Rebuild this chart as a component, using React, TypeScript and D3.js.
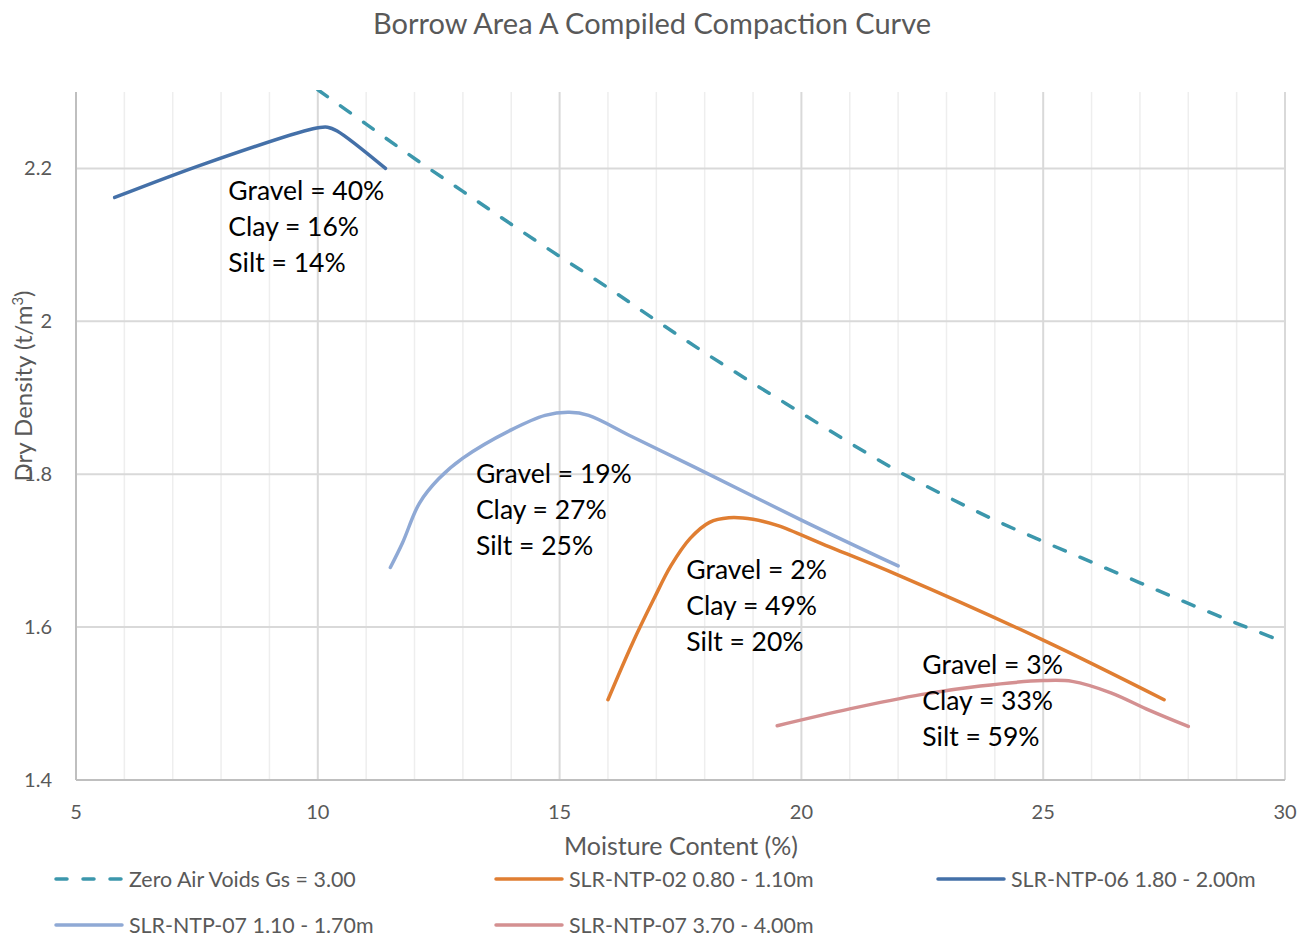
import React from "react";
import * as d3 from "d3";

type Pt = [number, number];

const xTicks = [5, 10, 15, 20, 25, 30];
const yTicks = [1.4, 1.6, 1.8, 2.0, 2.2];
const yTickLabels = ["1.4", "1.6", "1.8", "2", "2.2"];

const zavGs300: Pt[] = [
  [10.0, 2.303], [11, 2.258], [12, 2.213], [13, 2.170], [14, 2.127], [15, 2.085],
  [16, 2.044], [17, 2.001], [18, 1.959], [19, 1.919], [20, 1.880], [21, 1.841],
  [22, 1.804], [23, 1.771], [24, 1.740], [25, 1.712], [26, 1.685], [27, 1.658],
  [28, 1.631], [29, 1.605], [29.8, 1.585],
];
const ntp02_080_110: Pt[] = [
  [16.0, 1.505], [16.5, 1.578], [16.95, 1.637], [17.3, 1.68], [17.7, 1.716],
  [18.1, 1.737], [18.5, 1.743], [19.0, 1.741], [19.5, 1.733], [20.5, 1.707],
  [22.0, 1.668], [25.0, 1.583], [27.5, 1.505],
];
const ntp06_180_200: Pt[] = [
  [5.8, 2.162], [7.7, 2.207], [9.9, 2.252], [10.2, 2.254], [10.4, 2.249], [11.4, 2.2],
];
const ntp07_110_170: Pt[] = [
  [11.5, 1.678], [11.75, 1.71], [12.1, 1.762], [12.5, 1.794], [13.0, 1.821],
  [14.0, 1.858], [14.7, 1.877], [15.2, 1.881], [15.6, 1.877], [16.5, 1.849],
  [17.8, 1.809], [20.0, 1.740], [22.0, 1.680],
];
const ntp07_370_400: Pt[] = [
  [19.5, 1.471], [21.0, 1.493], [22.5, 1.512], [23.7, 1.523], [25.0, 1.530],
  [25.6, 1.529], [26.4, 1.514], [27.2, 1.491], [28.0, 1.470],
];

const series = [
  { name: "Zero Air Voids Gs = 3.00", data: zavGs300, color: "#3C97AC", dash: "12 16" },
  { name: "SLR-NTP-02 0.80 - 1.10m", data: ntp02_080_110, color: "#E07E32", dash: "" },
  { name: "SLR-NTP-06 1.80 - 2.00m", data: ntp06_180_200, color: "#4470A8", dash: "" },
  { name: "SLR-NTP-07 1.10 - 1.70m", data: ntp07_110_170, color: "#8FA9D5", dash: "" },
  { name: "SLR-NTP-07 3.70 - 4.00m", data: ntp07_370_400, color: "#D49091", dash: "" },
];

const annotations = [
  { x: 8.15, y: 2.17, lines: ["Gravel = 40%", "Clay = 16%", "Silt = 14%"] },
  { x: 13.27, y: 1.8, lines: ["Gravel = 19%", "Clay = 27%", "Silt = 25%"] },
  { x: 17.62, y: 1.675, lines: ["Gravel = 2%", "Clay = 49%", "Silt = 20%"] },
  { x: 22.5, y: 1.551, lines: ["Gravel = 3%", "Clay = 33%", "Silt = 59%"] },
];

const W = 1312, H = 937;
const L = 76, R = 1285, T = 92, B = 780;
const FONT = "Lato, 'Open Sans', sans-serif";

export default function App() {
  const x = d3.scaleLinear().domain([5, 30]).range([L, R]);
  const y = d3.scaleLinear().domain([1.4, 2.3]).range([B, T]);
  const line = d3
    .line<Pt>()
    .x((d) => x(d[0]))
    .y((d) => y(d[1]))
    .curve(d3.curveCatmullRom.alpha(0.5));
  const minor = d3.range(5, 31, 1);
  const legendPos = [
    { lx: 54, ly: 879 },
    { lx: 494, ly: 879 },
    { lx: 936, ly: 879 },
    { lx: 54, ly: 925 },
    { lx: 494, ly: 925 },
  ];
  return (
    <svg width={W} height={H} style={{ position: "absolute", left: 0, top: 0, background: "#fff" }}>
      <defs>
        <clipPath id="plot">
          <rect x={L} y={T - 2} width={R - L} height={B - T + 2} />
        </clipPath>
      </defs>
      <text x={652} y={34} textAnchor="middle" fontFamily={FONT} fontSize={29} fill="#595959">
        Borrow Area A Compiled Compaction Curve
      </text>
      {minor.map((v) => (
        <line key={"v" + v} x1={x(v)} x2={x(v)} y1={T} y2={B}
          stroke={v % 5 === 0 ? "#D9D9D9" : "#EEEEEE"} strokeWidth={v % 5 === 0 ? 2 : 1.5} />
      ))}
      {yTicks.slice(1).map((v) => (
        <line key={"h" + v} x1={L} x2={R} y1={y(v)} y2={y(v)} stroke="#D9D9D9" strokeWidth={2} />
      ))}
      <line x1={L} x2={L} y1={T} y2={B} stroke="#BFBFBF" strokeWidth={2} />
      <line x1={L} x2={R} y1={B} y2={B} stroke="#BFBFBF" strokeWidth={2} />
      {yTicks.map((v, i) => (
        <text key={"yt" + v} x={52} y={y(v) + 7} textAnchor="end" fontFamily={FONT} fontSize={20} fill="#595959">
          {yTickLabels[i]}
        </text>
      ))}
      {xTicks.map((v) => (
        <text key={"xt" + v} x={x(v)} y={819} textAnchor="middle" fontFamily={FONT} fontSize={20} fill="#595959">
          {v}
        </text>
      ))}
      <text x={681} y={855} textAnchor="middle" fontFamily={FONT} fontSize={25} fill="#595959">
        Moisture Content (%)
      </text>
      <text transform="translate(32,386) rotate(-90)" textAnchor="middle" fontFamily={FONT} fontSize={24} fill="#595959">
        Dry Density (t/m<tspan dy={-9} fontSize={15}>3</tspan><tspan dy={9}>)</tspan>
      </text>
      <g clipPath="url(#plot)">
        {series.map((s) => (
          <path key={s.name} d={line(s.data) || ""} fill="none" stroke={s.color} strokeWidth={3.5}
            strokeDasharray={s.dash || undefined} strokeLinecap="round" strokeLinejoin="round" />
        ))}
      </g>
      {annotations.map((a, i) => (
        <g key={"a" + i}>
          {a.lines.map((t, j) => (
            <text key={j} x={x(a.x)} y={y(a.y) + 9 + j * 36} fontFamily={FONT} fontSize={26.5} fill="#000">
              {t}
            </text>
          ))}
        </g>
      ))}
      {series.map((s, i) => (
        <g key={"lg" + i}>
          <line x1={legendPos[i].lx + 2} x2={legendPos[i].lx + 68} y1={legendPos[i].ly} y2={legendPos[i].ly}
            stroke={s.color} strokeWidth={3.5} strokeLinecap="round" strokeDasharray={s.dash ? "11 16" : undefined} />
          <text x={legendPos[i].lx + 75} y={legendPos[i].ly + 8} fontFamily={FONT} fontSize={21.4} fill="#595959">
            {s.name}
          </text>
        </g>
      ))}
    </svg>
  );
}
